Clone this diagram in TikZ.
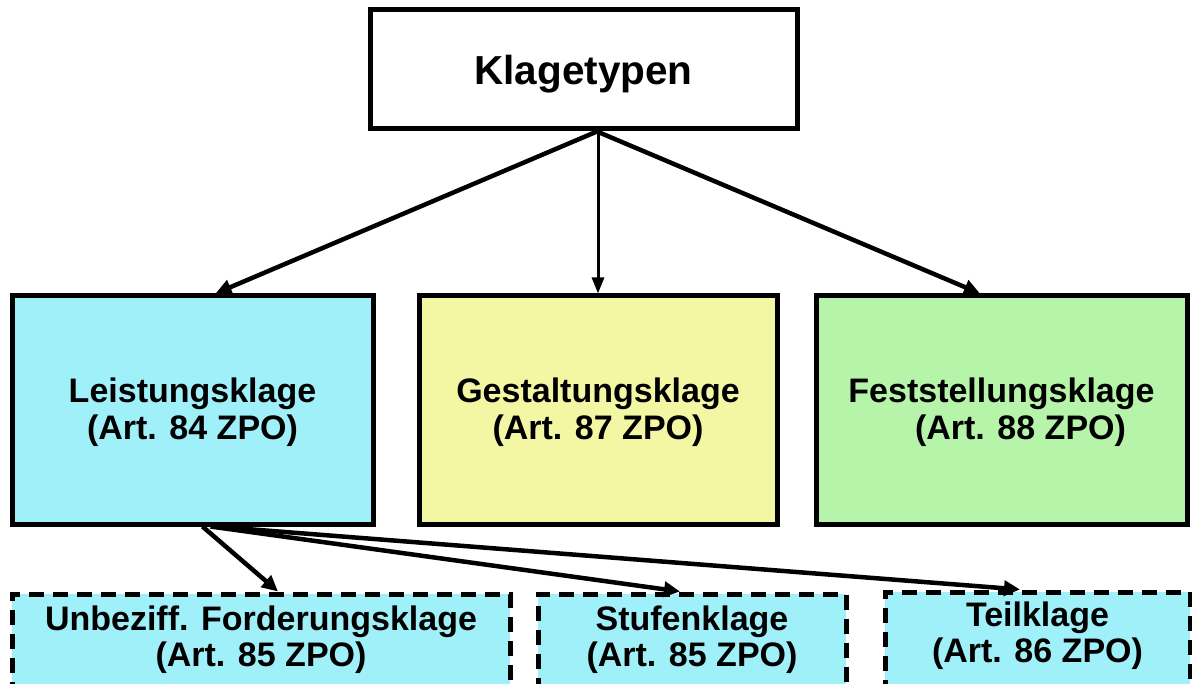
\documentclass[tikz,border=0pt]{standalone}
\usepackage{fontspec}
\setmainfont{Liberation Sans}
\usetikzlibrary{arrows.meta}
\definecolor{cyanfill}{HTML}{A0F0FA}
\definecolor{yellowfill}{HTML}{F3F7A3}
\definecolor{greenfill}{HTML}{B6F4AA}
\tikzset{
  box/.style={draw=black, line width=5pt, align=center, inner sep=0pt,
    font=\fontsize{34}{37}\selectfont\bfseries, text height=67.2pt, text depth=7.2pt},
  subbox/.style={box, dash pattern=on 15pt off 9pt, fill=cyanfill,
    font=\fontsize{34}{36}\selectfont\bfseries, text height=59.2pt}
}
\tikzset{
  arr/.style={line width=4.5pt, -{Triangle[length=16pt,width=15pt]}},
  thinarr/.style={line width=3pt, -{Triangle[length=16pt,width=12pt]}}
}
\begin{document}
\begin{tikzpicture}[x=1pt,y=-1pt]
\useasboundingbox (0,0) rectangle (1192,684);
\clip (0,0) rectangle (1192,684);
\node[box, minimum width=427pt, minimum height=119pt, font=\fontsize{40.5}{48}\selectfont\bfseries, text height=38pt, text depth=8.6pt] (K) at (583.5,69.5) {Klagetypen};
\node[box, fill=cyanfill, minimum width=361pt, minimum height=228pt] (L) at (192.5,410) {Leistungsklage\\(Art. 84 ZPO)};
\node[box, fill=yellowfill, minimum width=358pt, minimum height=228pt] (G) at (598,410) {Gestaltungsklage\\(Art. 87 ZPO)};
\node[box, fill=greenfill, minimum width=371pt, minimum height=228pt] (F) at (1001.5,410) {Feststellungsklage\\\hspace*{38pt}(Art. 88 ZPO)};
\node[subbox, minimum width=498pt, minimum height=92pt] (U) at (261,640) {Unbeziff. Forderungsklage\\(Art. 85 ZPO)};
\node[subbox, minimum width=308pt, minimum height=92pt] (S) at (692,640) {Stufenklage\\(Art. 85 ZPO)};
\node[subbox, minimum width=305pt, minimum height=94pt, text height=53.2pt] (T) at (1037.5,639) {Teilklage\\(Art. 86 ZPO)};
\draw[arr] ([xshift=13.5pt]K.south) -- ([xshift=23pt]L.north);
\draw[thinarr] (K.south -| G.north) -- (G.north);
\draw[arr] ([xshift=13.5pt]K.south) -- ([xshift=-21.5pt]F.north);
\draw[arr] ([xshift=10pt]L.south) -- ([xshift=17pt]U.north);
\draw[arr] ([xshift=18pt]L.south) -- ([xshift=-12pt]S.north);
\draw[arr] ([xshift=22pt]L.south) -- ([xshift=-17.5pt]T.north);
\end{tikzpicture}
\end{document}
